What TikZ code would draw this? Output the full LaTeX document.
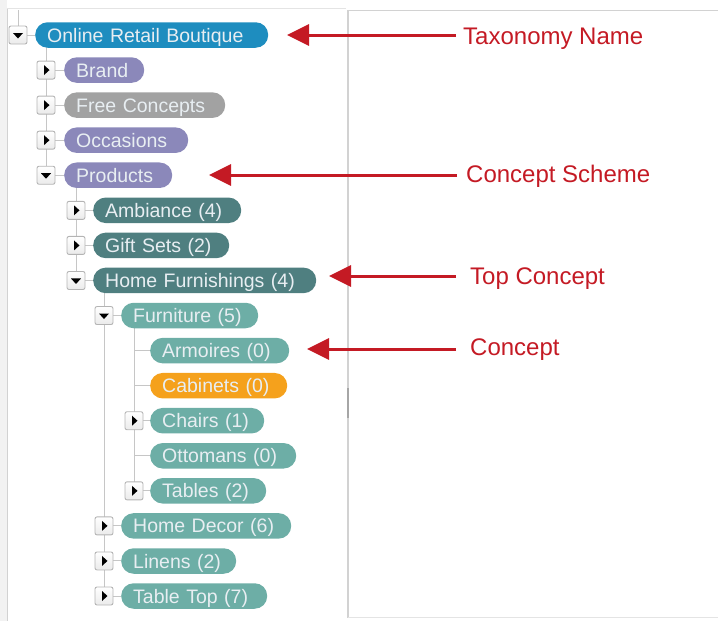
\documentclass[tikz,border=0pt]{standalone}
\usepackage{fontspec}
\setmainfont{Liberation Sans}
\usetikzlibrary{arrows.meta}
\definecolor{cblue}{HTML}{1E8DBF}
\definecolor{cpurple}{HTML}{8B88BA}
\definecolor{cgray}{HTML}{A2A2A2}
\definecolor{cdteal}{HTML}{4F7F80}
\definecolor{clteal}{HTML}{6DAEA6}
\definecolor{corange}{HTML}{F5A11C}
\definecolor{cred}{HTML}{C41A24}
\definecolor{ctext}{HTML}{E8EEF2}
\definecolor{cline}{HTML}{C6C6C6}
\definecolor{cbox}{HTML}{B4B4B4}
\definecolor{cframe}{HTML}{D2D2D2}
\tikzset{
  pill/.style 2 args={fill=#1, text=ctext, rounded corners=12.5pt, minimum height=25.5pt,
    inner xsep=12pt, inner ysep=0pt, text width=#2, text height=14pt, text depth=0pt,
    align=left, anchor=west, font=\fontsize{19.5}{22}\selectfont},
  expbox/.style={draw=cbox, top color=white, bottom color=black!8, rounded corners=2pt,
    minimum width=18pt, minimum height=18pt, inner sep=0pt, line width=0.9pt},
  tree/.style={draw=cline, line width=1pt},
  callout/.style={draw=cred, line width=3pt, -{Triangle[length=22pt,width=21pt]}},
  lbl/.style={text=cred, anchor=base west, inner sep=0pt, font=\fontsize{24}{28}\selectfont},
}
\begin{document}
\begin{tikzpicture}[x=1pt,y=-1pt]
\useasboundingbox (0,0) rectangle (718,621);
% frame
\fill[black!5] (0,0) rectangle (7,621);
\draw[cframe, line width=1pt] (7,8) -- (7,621);
\draw[cframe!60, line width=0.8pt] (7,8) -- (346,8);
\draw[cframe, line width=1.2pt] (348,10) -- (348,618);
\draw[cframe, line width=1pt] (348,10) -- (718,10);
\draw[black!35, line width=1.4pt] (348,388) -- (348,418);
\draw[cframe!60, line width=0.8pt] (348,617) -- (718,617);

% tree lines
\draw[tree] (18,10) -- (18,35);
\draw[tree] (46,35) -- (46,175);
\draw[tree] (76,175) -- (76,280.4);
\draw[tree] (104,280.4) -- (104,596);
\draw[tree] (134,315.5) -- (134,491);
% horizontal stubs
\foreach \xa/\xb/\yy in {18/35/35, 46/64/70.06, 46/64/105.12, 46/64/140.18, 46/64/175.24,
  76/93/210.36, 76/93/245.42, 76/93/280.48, 104/121/315.54, 134/150/350.6, 134/150/385.66,
  134/150/420.72, 134/150/455.78, 134/150/490.84, 104/121/525.9, 104/121/560.96, 104/121/596}
  \draw[tree] (\xa,\yy) -- (\xb,\yy);

% pills
\node[pill={cblue}{209pt}] (root) at (35,35) {Online Retail Boutique};
\node[pill={cpurple}{56pt}] (brand) at (64,70.06) {Brand};
\node[pill={cgray}{137pt}] (free) at (64,105.12) {Free Concepts};
\node[pill={cpurple}{100pt}] (occ) at (64,140.18) {Occasions};
\node[pill={cpurple}{84pt}] (prod) at (64,175.24) {Products};
\node[pill={cdteal}{124pt}] (amb) at (93,210.3) {Ambiance (4)};
\node[pill={cdteal}{112pt}] (gift) at (93,245.4) {Gift Sets (2)};
\node[pill={cdteal}{199pt}] (home) at (93,280.4) {Home Furnishings (4)};
\node[pill={clteal}{113pt}] (furn) at (121,315.5) {Furniture (5)};
\node[pill={clteal}{115pt}] (arm) at (150,350.6) {Armoires (0)};
\node[pill={corange}{113pt}] (cab) at (150,385.7) {Cabinets (0)};
\node[pill={clteal}{90pt}] (chair) at (150,420.7) {Chairs (1)};
\node[pill={clteal}{122pt}] (otto) at (150,455.8) {Ottomans (0)};
\node[pill={clteal}{92pt}] (tab) at (150,490.8) {Tables (2)};
\node[pill={clteal}{146pt}] (decor) at (121,525.9) {Home Decor (6)};
\node[pill={clteal}{91pt}] (lin) at (121,561) {Linens (2)};
\node[pill={clteal}{122pt}] (top) at (121,596) {Table Top (7)};

% expander boxes: open (down triangle)
\foreach \n/\xx/\yy in {broot/18/35, bprod/46/175.24, bhome/76/280.48, bfurn/104/315.54}{
  \node[expbox] (\n) at (\xx,\yy) {};
  \fill[black] (\n.center) ++(-5,-2) -- ++(10,0) -- ++(-5,5.5) -- cycle;
}
% expander boxes: closed (right triangle)
\foreach \n/\xx/\yy in {bbrand/46/70.06, bfree/46/105.12, bocc/46/140.18, bamb/76/210.36,
  bgift/76/245.42, bchair/134/420.72, btab/134/490.84, bdecor/104/525.9, blin/104/560.96, btop/104/596}{
  \node[expbox] (\n) at (\xx,\yy) {};
  \fill[black] (\n.center) ++(-2,-5) -- ++(0,10) -- ++(5.5,-5) -- cycle;
}

% callouts
\node[lbl] (ltax) at (463,45) {Taxonomy Name};
\node[lbl] (lscheme) at (466,182) {Concept Scheme};
\node[lbl] (ltop) at (470,284) {Top Concept};
\node[lbl] (lcon) at (470,355) {Concept};
\coordinate (stax) at (456,35);
\coordinate (sscheme) at (457,175);
\coordinate (stop) at (456,276);
\coordinate (scon) at (456,349);
\coordinate (ttax) at (287,35);
\coordinate (tscheme) at (209,175);
\coordinate (ttop) at (329,276);
\coordinate (tcon) at (307,349);
\draw[callout] (stax) -- (ttax);
\draw[callout] (sscheme) -- (tscheme);
\draw[callout] (stop) -- (ttop);
\draw[callout] (scon) -- (tcon);
\end{tikzpicture}
\end{document}
